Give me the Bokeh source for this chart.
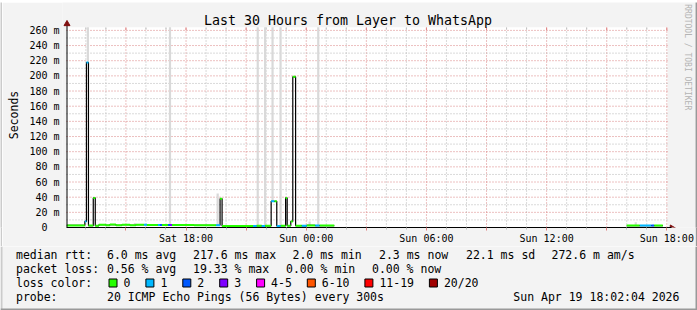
import math
from bokeh.plotting import figure
from bokeh.layouts import column, row
from bokeh.models import FixedTicker, Range1d, ColumnDataSource
from bokeh.core.properties import value
from bokeh.embed import file_html
from bokeh.resources import INLINE

# ---------------- data (hours since Sat 00:00, values in ms) ----------------
title_text = "Last 30 Hours from Layer to WhatsApp"
x_start, x_end = 12.034, 42.034          # Sat 12:02 .. Sun 18:02
y_top = 264.0
tick_hours = [18, 24, 30, 36, 42]
tick_labels = ["Sat 18:00", "Sun 00:00", "Sun 06:00", "Sun 12:00", "Sun 18:00"]
y_ticks = list(range(0, 261, 20))
y_tick_labels = ["0\u00a0\u00a0"] + ["%d m" % v for v in y_ticks[1:]]

loss_labels = ["0", "1", "2", "3", "4-5", "6-10", "11-19", "20/20"]
loss_colors = ["#26ff00", "#00b8ff", "#0059ff", "#7e00ff", "#ff00ff", "#ff5500", "#ff0000", "#a00000"]

# median rtt segments: start hour, end hour, median (ms), loss bucket index
med_start = [12.05, 12.95, 13.03, 13.13, 13.37, 13.47, 13.65, 14.00, 14.20, 14.50, 14.80, 15.20, 15.50,
             15.90, 16.05, 16.60, 16.70, 16.80, 17.10, 17.20, 17.30, 18.40, 19.50, 19.70, 19.80,
             21.35, 21.53, 21.78, 21.95, 22.25, 22.42, 22.53, 22.73, 22.97, 23.05, 23.23, 23.33,
             23.47, 23.78, 24.03, 24.45, 24.67,
             40.00, 40.65, 41.23, 41.37]
med_end = [12.95, 13.03, 13.13, 13.37, 13.47, 13.65, 14.00, 14.20, 14.50, 14.80, 15.20, 15.50, 15.90,
           16.05, 16.60, 16.70, 16.80, 17.10, 17.20, 17.30, 18.40, 19.50, 19.70, 19.80, 21.35,
           21.53, 21.78, 21.95, 22.25, 22.42, 22.53, 22.73, 22.97, 23.05, 23.23, 23.33, 23.47,
           23.78, 24.03, 24.45, 24.67, 25.40,
           40.65, 41.23, 41.37, 41.80]
med_ms = [2.8, 8.0, 217.6, 2.6, 39.0, 2.4, 3.6, 3.0, 3.8, 3.0, 3.6, 3.0, 3.6,
          3.6, 3.4, 3.4, 3.4, 3.2, 3.2, 3.2, 3.2, 3.0, 3.0, 38.0, 2.0,
          2.0, 2.2, 2.0, 2.2, 34.5, 34.5, 2.0, 2.4, 39.0, 2.4, 8.0, 198.7,
          2.4, 2.2, 2.8, 2.6, 2.6,
          2.6, 2.6, 2.6, 2.6]
med_loss = [0, 1, 1, 0, 0, 0, 0, 0, 0, 0, 0, 0, 0,
            1, 0, 1, 2, 0, 2, 3, 0, 0, 1, 0, 0,
            1, 0, 1, 0, 1, 0, 1, 0, 0, 0, 0, 0,
            0, 1, 0, 1, 0,
            0, 1, 2, 0]

# smoke (ping spread) bands: time, low, high (ms)
smoke_t = [13.10, 15.45, 17.20, 19.58, 21.58, 21.95, 22.32, 22.72, 24.17, 24.60, 40.45]
smoke_lo = [217.6, 3.4, 3.2, 3.0, 2.2, 2.2, 34.5, 2.0, 2.8, 2.6, 2.6]
smoke_hi = [y_top, 6.0, y_top, 45.0, y_top, y_top, y_top, y_top, 8.0, y_top, 7.0]

stats_rtt = ["6.0 ms avg", "217.6 ms max", "2.0 ms min", "2.3 ms now", "22.1 ms sd", "272.6 m am/s"]
stats_loss = ["0.56 % avg", "19.33 % max", "0.00 % min", "0.00 % now"]
probe_text = "20 ICMP Echo Pings (56 Bytes) every 300s"
stamp_text = "Sun Apr 19 18:02:04 2026"

# ---------------- geometry / styles ----------------
FONT = "DejaVu Sans Mono"
BG = "#f3f3f3"
SHADE_A = "#cbcbcb"
SHADE_B = "#999999"
ARROW = "#801010"
MGRID = "#d98080"
GRID = "#b4b4b4"

PXH = 601.0 / 30.0       # pixels per hour
PXM = 198.0 / 260.0      # pixels per ms
FL, FB = 66.0, 228.0     # plot-area left / bottom (page pixels)


def X(px):
    return x_start + (px - FL) / PXH


def Y(py):
    return (FB - py) / PXM


def deco_fig(w, h, bg=BG):
    f = figure(width=w, height=h, output_backend="svg", toolbar_location=None, title=None,
               x_range=Range1d(0, w), y_range=Range1d(h, 0), x_axis_type=None, y_axis_type=None,
               min_border_left=0, min_border_right=0, min_border_top=0, min_border_bottom=0)
    f.background_fill_color = bg
    f.border_fill_color = bg
    f.outline_line_color = None
    return f


# ---------------- main chart ----------------
p = figure(width=693, height=244, output_backend="svg", toolbar_location=None, title=None,
           x_range=Range1d(X(62), X(695)), y_range=Range1d(0, Y(2)),
           min_border_left=60, min_border_right=0, min_border_top=0, min_border_bottom=18)
p.background_fill_color = BG
p.border_fill_color = BG
p.outline_line_color = None
p.xgrid.visible = False
p.ygrid.visible = False

maj3 = [h for h in range(13, 43) if h % 3 == 0]
min1 = [h for h in range(13, 43) if h % 3 != 0]

xa = p.xaxis[0]
xa.ticker = FixedTicker(ticks=maj3, minor_ticks=min1)
xa.major_label_overrides = {h: (tick_labels[tick_hours.index(h)] if h in tick_hours else "") for h in maj3}
xa.major_label_text_font = FONT
xa.major_label_text_font_size = "10px"
xa.major_label_text_color = "#000000"
xa.axis_line_color = "#000000"
xa.bounds = (x_start, X(671))
xa.major_tick_line_color = "#e08080"
xa.minor_tick_line_color = "#bbbbbb"
xa.major_tick_out = 3
xa.major_tick_in = 0
xa.minor_tick_out = 2
xa.minor_tick_in = 0
xa.major_label_standoff = 2

ya = p.yaxis[0]
ya.ticker = FixedTicker(ticks=y_ticks, minor_ticks=[])
ya.major_label_overrides = dict(zip(y_ticks, y_tick_labels))
ya.major_label_text_font = FONT
ya.major_label_text_font_size = "10px"
ya.major_label_text_color = "#000000"
ya.axis_line_color = None
ya.major_tick_line_color = None
ya.minor_tick_line_color = None
ya.major_tick_out = 0
ya.major_tick_in = 0
ya.minor_tick_out = 0
ya.minor_tick_in = 0
ya.major_label_standoff = 3
ya.axis_label = "Seconds"
ya.axis_label_text_font = FONT
ya.axis_label_text_font_size = "11.5px"
ya.axis_label_text_font_style = "normal"
ya.axis_label_text_color = "#000000"
ya.axis_label_standoff = 5

# plot canvas
p.quad(left=[x_start], right=[x_end], bottom=[0], top=[y_top], fill_color="#ffffff", line_color=None)

# grid (dotted)
hmin = [h for h in min1 if h < x_end]
hmaj = [h for h in maj3 if h <= x_end]
p.segment(x0=hmin, x1=hmin, y0=[0] * len(hmin), y1=[y_top] * len(hmin), line_color=GRID, line_dash="1 2")
p.segment(x0=hmaj, x1=hmaj, y0=[0] * len(hmaj), y1=[y_top] * len(hmaj), line_color=MGRID, line_dash="1 2")
ymin = list(range(10, 261, 20))
ymaj = y_ticks[1:]
p.segment(x0=[x_start] * len(ymin), x1=[x_end] * len(ymin), y0=ymin, y1=ymin, line_color=GRID, line_dash="1 2")
p.segment(x0=[x_start] * len(ymaj), x1=[x_end] * len(ymaj), y0=ymaj, y1=ymaj, line_color=MGRID, line_dash="1 2")
# small solid ticks at the top edge
p.segment(x0=hmaj, x1=hmaj, y0=[y_top - 3 / PXM] * len(hmaj), y1=[y_top] * len(hmaj), line_color="#e08080")
p.segment(x0=hmin, x1=hmin, y0=[y_top - 2 / PXM] * len(hmin), y1=[y_top] * len(hmin), line_color="#c0c0c0")

# smoke
p.vbar(x=smoke_t, width=0.11, bottom=smoke_lo, top=smoke_hi, fill_color="#d9d9d9", line_color=None)

# black median step line (vertical transitions)
xs, ys = [], []
for i in range(len(med_start)):
    if i > 0 and abs(med_start[i] - med_end[i - 1]) > 1e-6:
        xs.append(float("nan"))
        ys.append(float("nan"))
    xs += [med_start[i], med_end[i]]
    ys += [med_ms[i], med_ms[i]]
p.line(xs, ys, line_color="#000000", line_width=1.2)

# loss-coloured median
src = ColumnDataSource(dict(x0=med_start, x1=med_end, y=med_ms,
                            c=[loss_colors[k] for k in med_loss]))
p.segment(x0="x0", x1="x1", y0="y", y1="y", line_color="c", line_width=2, source=src)

# y axis line with arrow, x axis arrow
p.segment(x0=[X(66.5)], x1=[X(66.5)], y0=[0], y1=[Y(23)], line_color="#000000", line_width=1)
p.scatter(x=[X(66.5)], y=[Y(23.5)], marker="triangle", size=6, fill_color=ARROW, line_color=ARROW)
p.scatter(x=[X(671.5)], y=[Y(228.5)], marker="triangle", size=6, angle=-math.pi / 2,
          fill_color=ARROW, line_color=ARROW)

# title and rrdtool credit
p.text(x=[X(347.5)], y=[Y(20.5)], text=[title_text], text_font=value(FONT), text_font_size="13.3px",
       text_align="center", text_baseline="middle", text_color="#000000")
p.text(x=[X(687)], y=[Y(57)], text=["RRDTOOL / TOBI OETIKER"], text_font=value(FONT),
       text_font_size="8px", text_align="center", text_baseline="middle", angle=-math.pi / 2,
       text_color="#b4b4b4")

# ---------------- border strips ----------------
top_strip = deco_fig(697, 2, SHADE_A)
left_strip = deco_fig(2, 244, SHADE_A)
right_strip = deco_fig(2, 244, SHADE_B)

# ---------------- legend area (page y 246..310) ----------------
lg = deco_fig(697, 64)
OY = 246.0


def t(x, y, s):
    lg.text(x=[x], y=[y - OY], text=[s], text_font=value(FONT), text_font_size="11.5px",
            text_align="left", text_baseline="middle", text_color="#000000")


CW = 6.9
t(15.5, 254, "median rtt:")
for xx, s in zip([107, 193, 292.5, 379, 466, 551.5], stats_rtt):
    t(xx - 0.5, 254, s)
t(15.5, 268, "packet loss:")
for xx, s in zip([107, 193, 286, 372], stats_loss):
    t(xx - 0.5, 268, s)
t(15.5, 282, "loss color:")
bx = 108.5
for lab, col in zip(loss_labels, loss_colors):
    lg.quad(left=[bx], right=[bx + 8], top=[278.5 - OY], bottom=[286.5 - OY],
            fill_color=col, line_color="#000000", line_width=1)
    t(bx + 14.5, 282, lab)
    bx = bx + 14.5 + len(lab) * CW + 15.5
t(15.5, 296, "probe:")
t(106.5, 296, probe_text)
t(512.8, 296, stamp_text)
lg.quad(left=[0], right=[2], top=[0], bottom=[64], fill_color=SHADE_A, line_color=None)
lg.quad(left=[695], right=[697], top=[0], bottom=[64], fill_color=SHADE_B, line_color=None)
lg.quad(left=[0], right=[697], top=[62], bottom=[64], fill_color=SHADE_B, line_color=None)

layout = column(top_strip, row(left_strip, p, right_strip), lg)
open("out.html", "w").write(file_html(layout, INLINE))
